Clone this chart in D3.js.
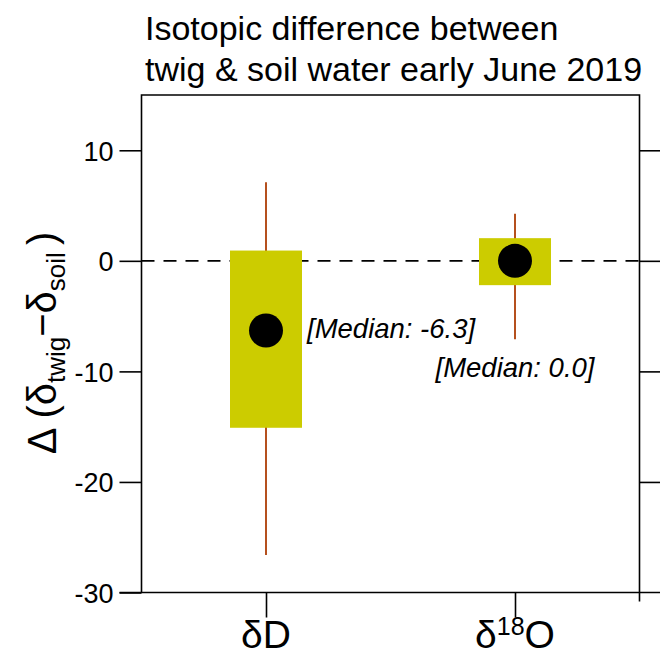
<!DOCTYPE html>
<html>
<head>
<meta charset="utf-8">
<script src="https://cdn.jsdelivr.net/npm/d3@7"></script>
<style>
  body { margin: 0; background: #fff; }
  svg { display: block; font-family: "Liberation Sans", Arial, Helvetica, sans-serif; }
</style>
</head>
<body>
<svg id="chart" width="660" height="655"></svg>
<script>
// box summary values
var categories = ["δD", "δ18O"];
var whiskerLow = [-26.6, -7.1];
var q1 = [-15.1, -2.2];
var median = [-6.3, 0.0];
var q3 = [0.93, 2.05];
var whiskerHigh = [7.1, 4.25];
var yTicks = [10, 0, -10, -20, -30];

var plotLeft = 141.5, plotRight = 639.5, plotTop = 95, plotBottom = 592.5;
var boxWidth = 72;
var boxColor = "#cccc00";
var whiskerColor = "#b5501e";

var svg = d3.select("#chart");

var x = d3.scalePoint()
  .domain(categories)
  .range([plotLeft, plotRight])
  .padding(0.5);

var y = d3.scaleLinear()
  .domain([-30, 15])
  .range([plotBottom, plotTop]);

// title
var title = svg.append("text")
  .attr("font-size", 34)
  .attr("fill", "#000");
title.append("tspan").attr("x", 145).attr("y", 40).text("Isotopic difference between");
title.append("tspan").attr("x", 145).attr("y", 81).text("twig & soil water early June 2019");

// frame: top + left + right
svg.append("path")
  .attr("d", "M" + plotLeft + "," + plotBottom + "V" + plotTop + "H" + plotRight + "V" + (plotBottom + 9))
  .attr("fill", "none")
  .attr("stroke", "#000")
  .attr("stroke-width", 1.6);

// bottom line runs past the frame
svg.append("line")
  .attr("x1", plotLeft - 22).attr("x2", 660)
  .attr("y1", plotBottom).attr("y2", plotBottom)
  .attr("stroke", "#000").attr("stroke-width", 1.6);

// left axis (plain hyphen minus like the original)
var yAxis = d3.axisLeft(y).tickValues(yTicks).tickSize(22).tickPadding(6)
  .tickFormat(function (d) { return String(d); });
var gy = svg.append("g").attr("transform", "translate(" + plotLeft + ",0)").call(yAxis);
gy.select(".domain").remove();
gy.selectAll(".tick line").attr("stroke-width", 1.6);
gy.selectAll(".tick text").attr("font-size", 27).attr("font-family", "inherit").attr("dy", "0.36em");

// right axis, ticks outwards, no labels
var yAxisR = d3.axisRight(y).tickValues(yTicks.slice(0, 4)).tickSize(25).tickFormat("");
var gyr = svg.append("g").attr("transform", "translate(" + plotRight + ",0)").call(yAxisR);
gyr.select(".domain").remove();
gyr.selectAll(".tick line").attr("stroke-width", 1.6);

// bottom ticks
var gx = svg.append("g").attr("transform", "translate(0," + plotBottom + ")")
  .call(d3.axisBottom(x).tickSize(25).tickFormat(""));
gx.select(".domain").remove();
gx.selectAll(".tick line").attr("stroke-width", 1.6);

// category labels with superscript
categories.forEach(function (c) {
  var t = svg.append("text")
    .attr("x", x(c))
    .attr("y", 648)
    .attr("text-anchor", "middle")
    .attr("font-size", 39);
  var m = c.match(/^δ(\d*)(.*)$/);
  t.append("tspan").text("δ");
  if (m[1]) t.append("tspan").attr("font-size", 25).attr("dy", -13).text(m[1]);
  t.append("tspan").attr("dy", m[1] ? 13 : 0).text(m[2]);
});

// y label
var yl = svg.append("text")
  .attr("transform", "translate(56,343) rotate(-90)")
  .attr("text-anchor", "middle")
  .attr("font-size", 40);
yl.append("tspan").text("Δ (δ");
yl.append("tspan").attr("font-size", 26).attr("dy", 9).text("twig");
yl.append("tspan").attr("dy", -9).text("−δ");
yl.append("tspan").attr("font-size", 26).attr("dy", 9).text("soil");
yl.append("tspan").attr("dy", -9).attr("dx", 7).text(")");

// zero line
svg.append("line")
  .attr("x1", plotLeft).attr("x2", plotRight)
  .attr("y1", y(0)).attr("y2", y(0))
  .attr("stroke", "#000").attr("stroke-width", 1.6)
  .attr("stroke-dasharray", "13,9");

var idx = d3.range(categories.length);

// whiskers
svg.append("g").selectAll("line")
  .data(idx).enter().append("line")
  .attr("x1", function (i) { return x(categories[i]); })
  .attr("x2", function (i) { return x(categories[i]); })
  .attr("y1", function (i) { return y(whiskerLow[i]); })
  .attr("y2", function (i) { return y(whiskerHigh[i]); })
  .attr("stroke", whiskerColor)
  .attr("stroke-width", 2);

// boxes
svg.append("g").selectAll("rect")
  .data(idx).enter().append("rect")
  .attr("x", function (i) { return x(categories[i]) - boxWidth / 2; })
  .attr("width", boxWidth)
  .attr("y", function (i) { return y(q3[i]); })
  .attr("height", function (i) { return y(q1[i]) - y(q3[i]); })
  .attr("fill", boxColor);

// medians
svg.append("g").selectAll("circle")
  .data(idx).enter().append("circle")
  .attr("cx", function (i) { return x(categories[i]); })
  .attr("cy", function (i) { return y(median[i]); })
  .attr("r", 17)
  .attr("fill", "#000");

// median notes: first beside the box, second under the whisker
svg.append("g").selectAll("text")
  .data(idx).enter().append("text")
  .attr("font-size", 27.5)
  .attr("font-style", "italic")
  .attr("text-anchor", function (i) { return i === 0 ? "start" : "middle"; })
  .attr("x", function (i) { return i === 0 ? x(categories[i]) + boxWidth / 2 + 5 : x(categories[i]); })
  .attr("y", function (i) { return i === 0 ? y(median[i]) + 8 : y(whiskerLow[i]) + 38; })
  .text(function (i) { return "[Median: " + median[i].toFixed(1) + "]"; });
</script>
</body>
</html>
